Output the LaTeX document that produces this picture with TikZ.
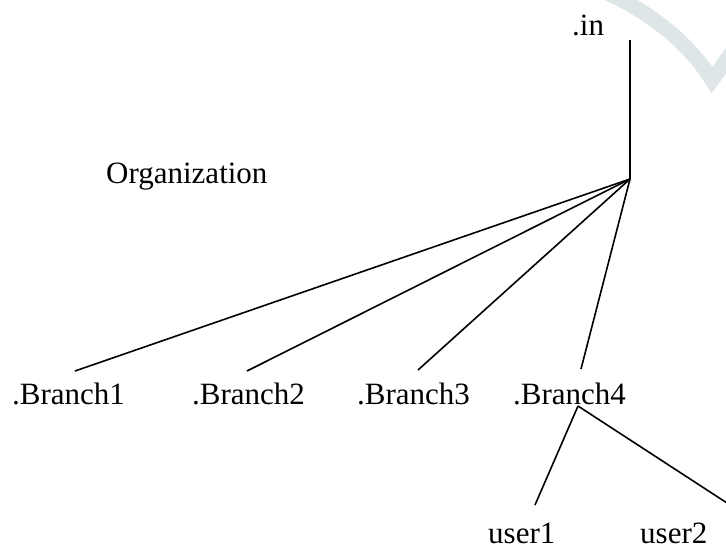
\documentclass[tikz,border=0pt]{standalone}
\usepackage{fontspec}
\setmainfont{Liberation Serif}
\begin{document}
\begin{tikzpicture}[x=1pt,y=-1pt,
  lbl/.style={anchor=base west,inner sep=0pt,font=\fontsize{31}{36}\selectfont},
  link/.style={line width=1.6pt,black}]
\useasboundingbox (0,0) rectangle (726,552);
\fill[white] (0,0) rectangle (726,552);
% watermark
\draw[line width=15pt,color={rgb,255:red,222;green,230;blue,232}]
  (605,-8) .. controls (650,12) and (688,42) .. (712,80) -- (745,35);
% labels
\node[lbl] (in) at (572,35) {.in};
\node[lbl] (org) at (106,183) {Organization};
\node[lbl] (b1) at (12,404) {.Branch1};
\node[lbl] (b2) at (192,404) {.Branch2};
\node[lbl] (b3) at (357,404) {.Branch3};
\node[lbl] (b4) at (513,404) {.Branch4};
\node[lbl] (u1) at (488,543) {user1};
\node[lbl] (u2) at (640,543) {user2};
% connector points
\coordinate (top) at (630,40);
\coordinate (hub) at (630,179);
\coordinate (e1) at (75,371);
\coordinate (e2) at (247,371);
\coordinate (e3) at (418,370);
\coordinate (e4) at (581,369);
\coordinate (apex) at (578,406);
\coordinate (f1) at (535,505);
\coordinate (f2) at (727,503);
% connectors
\draw[link] (top) -- (hub);
\draw[link] (hub) -- (e1);
\draw[link] (hub) -- (e2);
\draw[link] (hub) -- (e3);
\draw[link] (hub) -- (e4);
\draw[link] (apex) -- (f1);
\draw[link] (apex) -- (f2);
\end{tikzpicture}
\end{document}
